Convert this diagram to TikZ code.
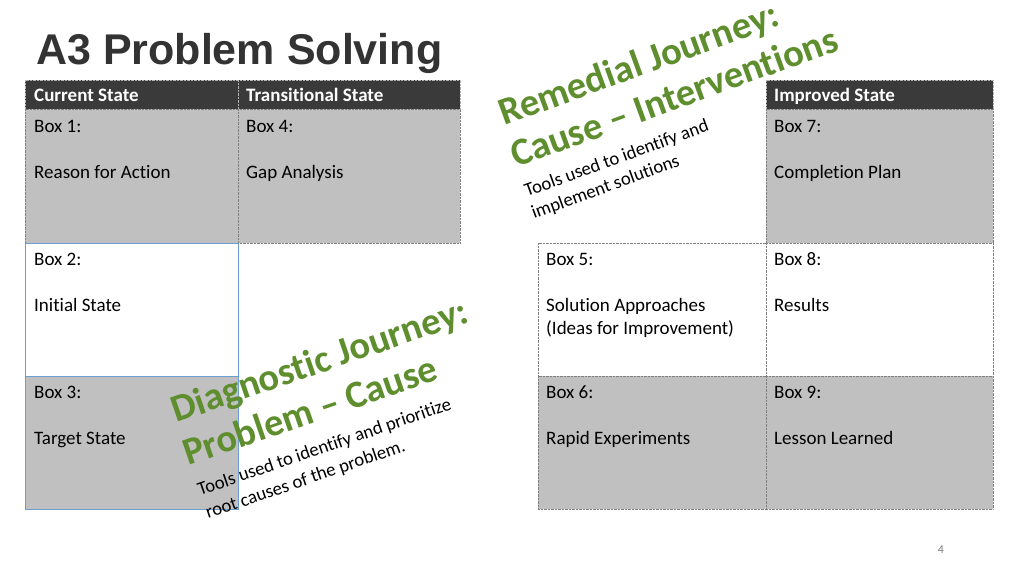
\documentclass[tikz,border=0pt]{standalone}
\usepackage{fontspec}
\setmainfont[Ligatures=NoCommon]{Carlito}
\newfontfamily\titlefont{Liberation Sans}
\begin{document}
\begin{tikzpicture}[x=1pt,y=-1pt,
  hdr/.style={fill=hdrgray,draw=gray!60,densely dotted},
  grayc/.style={fill=cellgray,draw=gray,densely dotted},
  whitec/.style={fill=white,draw=gray,densely dotted},
  bluec/.style={draw=blueb,line width=0.8pt},
  txt/.style={anchor=base west,inner sep=0pt,font=\fontsize{19}{22}\selectfont},
  htxt/.style={txt,text=white,font=\fontsize{19}{22}\selectfont\bfseries},
  green/.style={anchor=base west,inner sep=0pt,text=jgreen,font=\fontsize{38.5}{42}\selectfont\bfseries},
  small/.style={anchor=base west,inner sep=0pt,font=\fontsize{18.7}{22}\selectfont}]
\definecolor{hdrgray}{HTML}{3A3A3A}
\definecolor{cellgray}{HTML}{C0C0C0}
\definecolor{blueb}{HTML}{6A9FD0}
\definecolor{jgreen}{HTML}{5E8E2E}
\useasboundingbox (0,0) rectangle (1024,576);
\fill[white] (0,0) rectangle (1024,576);
\node[anchor=base west,inner sep=0pt,font=\titlefont\fontsize{43}{48}\selectfont\bfseries,text=black!80] (title) at (36,64) {A3 Problem Solving};
% left table
\path[hdr] (25,80) rectangle (238,109);
\path[hdr] (238,80) rectangle (460,109);
\path[grayc] (25,109) rectangle (238,243);
\path[grayc] (238,109) rectangle (460,243);
\path[whitec] (25,243) rectangle (238,376);
\path[grayc] (25,376) rectangle (238,509);
\draw[bluec] (25,243) rectangle (238,509);
\draw[bluec] (25,376) -- (238,376);
% right table
\path[hdr] (766,80) rectangle (993,109);
\path[grayc] (766,109) rectangle (993,243);
\path[whitec] (538,243) rectangle (766,376);
\path[whitec] (766,243) rectangle (993,376);
\path[grayc] (538,376) rectangle (766,509);
\path[grayc] (766,376) rectangle (993,509);
% headers
\node[htxt] (h1) at (34,101) {Current State};
\node[htxt] (h2) at (246,101) {Transitional State};
\node[htxt] (h3) at (774,101) {Improved State};
% cell texts
\node[txt] (b1) at (34,132) {Box 1:};
\node[txt] (b1t) at (34,178) {Reason for Action};
\node[txt] (b4) at (246,132) {Box 4:};
\node[txt] (b4t) at (246,178) {Gap Analysis};
\node[txt] (b7) at (774,132) {Box 7:};
\node[txt] (b7t) at (774,178) {Completion Plan};
\node[txt] (b2) at (34,265) {Box 2:};
\node[txt] (b2t) at (34,311) {Initial State};
\node[txt] (b5) at (546,265) {Box 5:};
\node[txt] (b5t) at (546,311) {Solution Approaches};
\node[txt] (b5u) at (546,334) {(Ideas for Improvement)};
\node[txt] (b8) at (774,265) {Box 8:};
\node[txt] (b8t) at (774,311) {Results};
\node[txt] (b3) at (34,398) {Box 3:};
\node[txt] (b3t) at (34,444) {Target State};
\node[txt] (b6) at (546,398) {Box 6:};
\node[txt] (b6t) at (546,444) {Rapid Experiments};
\node[txt] (b9) at (774,398) {Box 9:};
\node[txt] (b9t) at (774,444) {Lesson Learned};
% remedial
\node[green,rotate=20] (r1) at (504,126) {Remedial Journey:};
\node[green,rotate=20] (r2) at (516,168) {Cause – Interventions};
\node[small,rotate=20] (r3) at (527,197) {Tools used to identify and};
\node[small,rotate=20] (r4) at (534,219) {implement solutions};
% diagnostic
\node[green,rotate=19] (d1) at (176,423) {Diagnostic Journey:};
\node[green,rotate=19] (d2) at (188,466) {Problem – Cause};
\node[small,rotate=19] (d3) at (200,496) {Tools used to identify and prioritize};
\node[small,rotate=19] (d4) at (208,519) {root causes of the problem.};
\node[anchor=base,inner sep=0pt,font=\fontsize{12}{14}\selectfont,text=gray] (pg) at (941,553) {4};
\end{tikzpicture}
\end{document}
